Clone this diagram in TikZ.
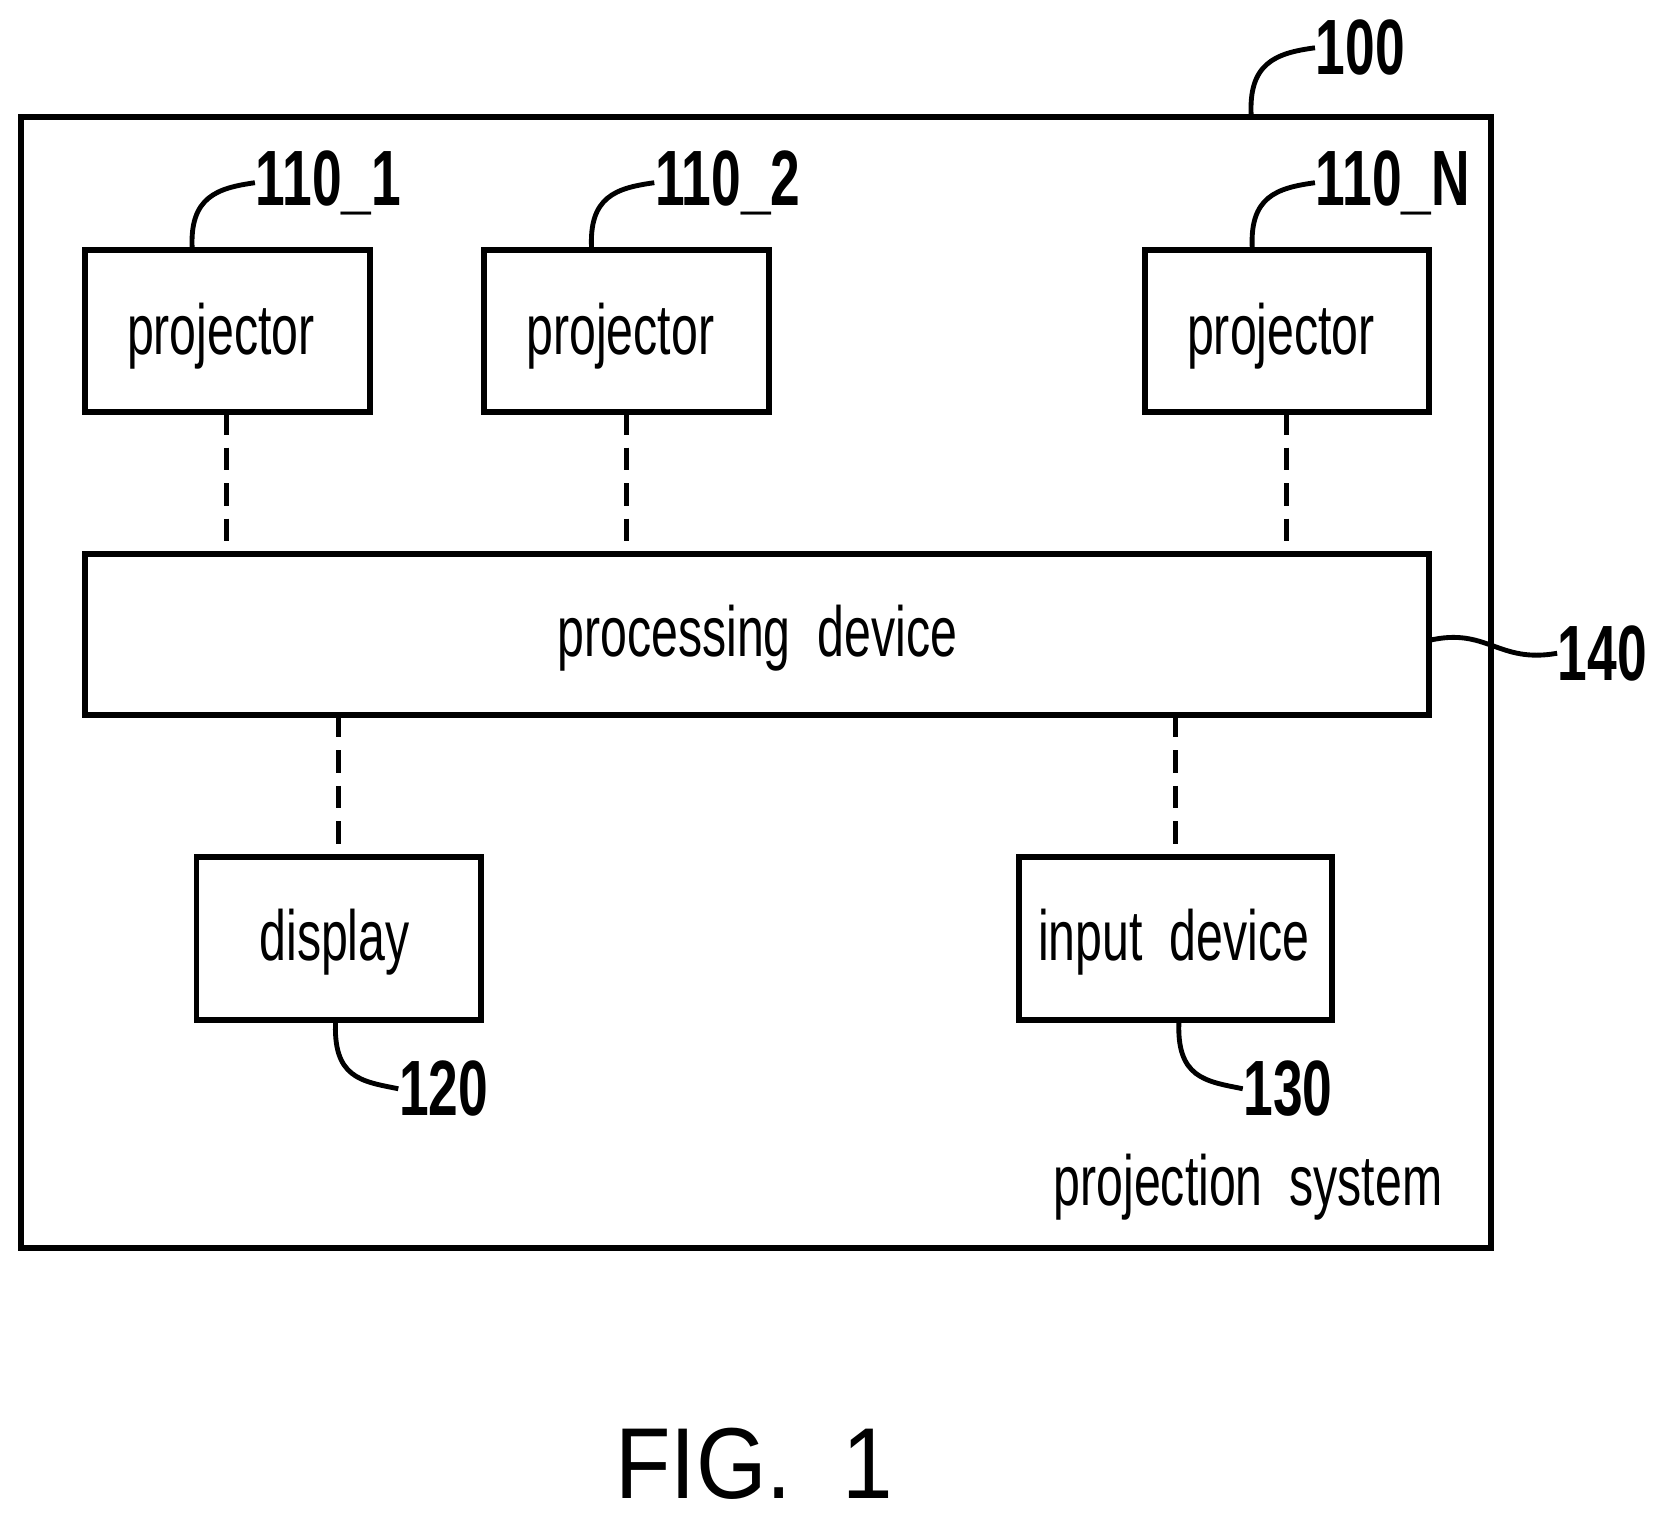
\documentclass[tikz,border=0pt]{standalone}
\usepackage{fontspec}
\setmainfont{Liberation Sans}[FakeStretch=0.68]
\newfontfamily\figfont{Liberation Sans}[FakeStretch=0.9]
\usetikzlibrary{calc}
\begin{document}
\begin{tikzpicture}[
        x=0.01cm, y=-0.01cm,
        blk/.style={draw, line width=1.6pt},
        link/.style={line width=1.3pt, dash pattern=on 6pt off 3.5pt},
        lead/.style={line width=1.3pt},
        num/.style={font=\fontsize{21}{24}\selectfont\bfseries, inner sep=0pt},
        txt/.style={font=\fontsize{19}{22}\selectfont, inner sep=0pt},
        ]
        \useasboundingbox (0,0) rectangle (1560,1436);
        % outer frame
        \draw[blk] (20,110) rectangle (1404,1175);
        \node[txt] (sys) at (1175,1118) {projection\ \ system};
        % projectors
        \draw[blk] (80,235) rectangle (348,388);
        \draw[blk] (456,235) rectangle (724,388);
        \draw[blk] (1078,235) rectangle (1345,388);
        \node[txt] (p1) at (208,316) {projector};
        \node[txt] (p2) at (584,316) {projector};
        \node[txt] (pn) at (1206,316) {projector};
        % processing device
        \draw[blk] (80,522) rectangle (1345,673);
        \node[txt] (proc) at (713,601) {processing\ \ device};
        % display and input
        \draw[blk] (185,807) rectangle (453,960);
        \draw[blk] (959,807) rectangle (1254,960);
        \node[txt] (disp) at (315,887) {display};
        \node[txt] (inp) at (1105,887) {input\ \ device};
        % dashed links
        \foreach \x in {213,590,1211}
          \draw[link] (\x,388) -- (\x,522);
        \foreach \x in {319,1107}
          \draw[link] (\x,673) -- (\x,807);
        % reference numerals
        \node[num, anchor=west] (n100) at (1238,45) {100};
        \node[num, anchor=west] (n1) at (240,172) {110\_1};
        \node[num, anchor=west] (n2) at (616,172) {110\_2};
        \node[num, anchor=west] (nn) at (1238,172) {110\_N};
        \node[num, anchor=west] (n140) at (1466,615) {140};
        \node[num, anchor=west] (n120) at (375,1025) {120};
        \node[num, anchor=west] (n130) at (1170,1025) {130};
        \draw[lead] (1178,110) .. controls (1175,60) and (1200,50) .. (n100.west);
        \draw[lead] (181,235) .. controls (178,185) and (205,177) .. (n1.west);
        \draw[lead] (557,235) .. controls (554,185) and (580,177) .. (n2.west);
        \draw[lead] (1179,235) .. controls (1176,185) and (1202,177) .. (nn.west);
        \draw[lead] (1345,603) .. controls (1400,590) and (1410,625) .. (n140.west);
        \draw[lead] (316,960) .. controls (313,1015) and (340,1018) .. (n120.west);
        \draw[lead] (1110,960) .. controls (1107,1015) and (1135,1018) .. (n130.west);
        % caption
        \node[font=\figfont\fontsize{27}{30}\selectfont, inner sep=0pt] (fig) at (710,1378) {FIG.\ \ 1};
\end{tikzpicture}
\end{document}
